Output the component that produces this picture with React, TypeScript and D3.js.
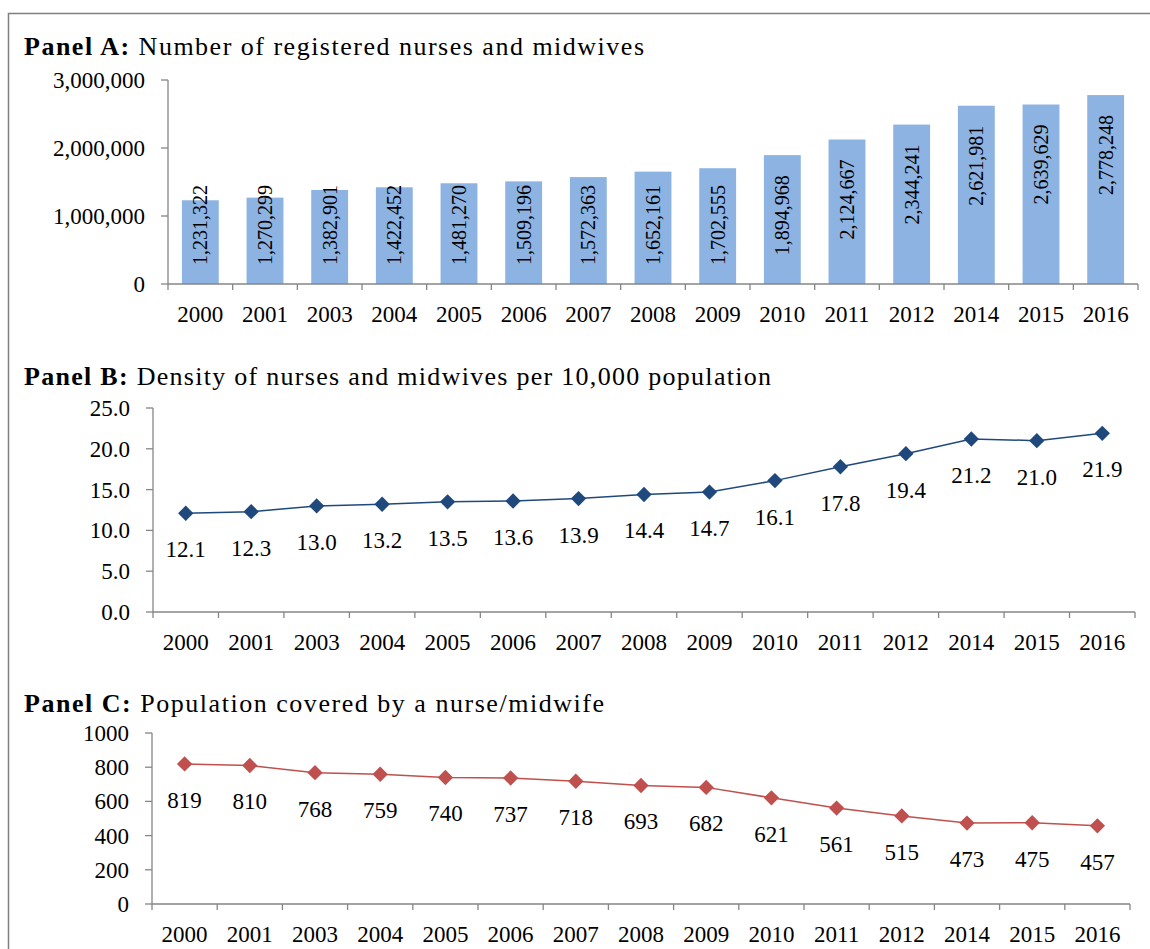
import React from 'react'
import * as d3 from 'd3'

const years = ['2000', '2001', '2003', '2004', '2005', '2006', '2007', '2008', '2009', '2010', '2011', '2012', '2014', '2015', '2016']
const nurses = [1231322, 1270299, 1382901, 1422452, 1481270, 1509196, 1572363, 1652161, 1702555, 1894968, 2124667, 2344241, 2621981, 2639629, 2778248]
const density = [12.1, 12.3, 13.0, 13.2, 13.5, 13.6, 13.9, 14.4, 14.7, 16.1, 17.8, 19.4, 21.2, 21.0, 21.9]
const coverage = [819, 810, 768, 759, 740, 737, 718, 693, 682, 621, 561, 515, 473, 475, 457]

const ticksA = [0, 1000000, 2000000, 3000000]
const ticksB = [0, 5, 10, 15, 20, 25]
const ticksC = [0, 200, 400, 600, 800, 1000]

const FONT = '"Liberation Serif", "Times New Roman", serif'
const AXIS = '#868686'
const TICK_SIZE = 23

function CategoryAxis({ x, y0 }: { x: d3.ScaleBand<string>, y0: number }) {
  const [r0, r1] = x.range()
  const step = x.step()
  return (
    <g>
      <line x1={r0} x2={r1} y1={y0} y2={y0} stroke={AXIS} strokeWidth={1.3} />
      {d3.range(years.length + 1).map(i => (
        <line key={i} x1={r0 + i * step} x2={r0 + i * step} y1={y0} y2={y0 + 6} stroke={AXIS} strokeWidth={1.3} />
      ))}
      {years.map(c => (
        <text key={c} x={x(c)! + x.bandwidth() / 2} y={y0 + 38} textAnchor="middle" fontSize={TICK_SIZE}>{c}</text>
      ))}
    </g>
  )
}

function ValueAxis({ y, x0, ticks, fmt }: { y: d3.ScaleLinear<number, number>, x0: number, ticks: number[], fmt: (v: number) => string }) {
  const [b, t] = y.range()
  return (
    <g>
      <line x1={x0} x2={x0} y1={t} y2={b} stroke={AXIS} strokeWidth={1.3} />
      {ticks.map(v => (
        <g key={v}>
          <line x1={x0 - 7} x2={x0} y1={y(v)} y2={y(v)} stroke={AXIS} strokeWidth={1.3} />
          <text x={x0 - 23} y={y(v)} dy="0.35em" textAnchor="end" fontSize={TICK_SIZE}>{fmt(v)}</text>
        </g>
      ))}
    </g>
  )
}

// Palatino in the original is wider than Liberation Serif, so stretch to the same extent
function Title({ y, bold, rest, len }: { y: number, bold: string, rest: string, len: number }) {
  return (
    <text x={24} y={y} fontSize={26} textLength={len} lengthAdjust="spacing">
      <tspan fontWeight="bold">{bold}</tspan>
      <tspan> {rest}</tspan>
    </text>
  )
}

function BarPanel() {
  const x = d3.scaleBand<string>().domain(years).range([168, 1138]).paddingInner(0.43).paddingOuter(0.215)
  const y = d3.scaleLinear().domain([0, 3000000]).range([284, 80])
  const fmt = d3.format(',')
  return (
    <g>
      <Title y={55} bold="Panel A:" rest="Number of registered nurses and midwives" len={620} />
      {nurses.map((v, i) => (
        <rect key={i} x={x(years[i])} y={y(v)} width={x.bandwidth()} height={y(0) - y(v)} fill="#8DB3E2" />
      ))}
      {nurses.map((v, i) => {
        const cx = x(years[i])! + x.bandwidth() / 2
        const yb = Math.min(y(v) + 100, y(0) - 19)
        return (
          <text key={i} transform={`translate(${cx},${yb}) rotate(-90)`} dy="0.35em" fontSize={20}>{fmt(v)}</text>
        )
      })}
      <ValueAxis y={y} x0={168} ticks={ticksA} fmt={fmt} />
      <CategoryAxis x={x} y0={284} />
    </g>
  )
}

function LinePanel({ title, bold, values, ticks, domain, top, bottom, left, right, color, fmt, tfmt, titleY, titleLen }: {
  title: string, bold: string, values: number[], ticks: number[], domain: [number, number],
  top: number, bottom: number, left: number, right: number, color: string,
  fmt: (v: number) => string, tfmt: (v: number) => string, titleY: number, titleLen: number
}) {
  const x = d3.scaleBand<string>().domain(years).range([left, right])
  const y = d3.scaleLinear().domain(domain).range([bottom, top])
  const cx = (i: number) => x(years[i])! + x.bandwidth() / 2
  const line = d3.line<number>().x((_, i) => cx(i)).y(v => y(v))
  const diamond = d3.symbol().type(d3.symbolDiamond2).size(150)
  return (
    <g>
      <Title y={titleY} bold={bold} rest={title} len={titleLen} />
      <ValueAxis y={y} x0={left} ticks={ticks} fmt={tfmt} />
      <CategoryAxis x={x} y0={bottom} />
      <path d={line(values)!} fill="none" stroke={color} strokeWidth={1.5} />
      {values.map((v, i) => (
        <path key={i} d={diamond()!} transform={`translate(${cx(i)},${y(v)})`} fill={color} />
      ))}
      {values.map((v, i) => (
        <text key={i} x={cx(i)} y={y(v) + 44} textAnchor="middle" fontSize={23}>{fmt(v)}</text>
      ))}
    </g>
  )
}

export default function App() {
  const f1 = d3.format('.1f')
  const f0 = d3.format('d')
  return (
    <svg width={1150} height={949} style={{ position: 'absolute', left: 0, top: 0, fontFamily: FONT, background: '#fff' }}>
      <rect x={0} y={0} width={1150} height={949} fill="#fff" />
      <rect x={8.5} y={13.5} width={1160} height={960} fill="none" stroke="#808080" strokeWidth={1.5} />
      <BarPanel />
      <LinePanel titleY={385} titleLen={747} bold="Panel B:" title="Density of nurses and midwives per 10,000 population"
        values={density} ticks={ticksB} domain={[0, 25]} top={408} bottom={612} left={153} right={1135}
        color="#1F497D" fmt={f1} tfmt={f1} />
      <LinePanel titleY={712} titleLen={580} bold="Panel C:" title="Population covered by a nurse/midwife"
        values={coverage} ticks={ticksC} domain={[0, 1000]} top={733} bottom={904} left={152} right={1130}
        color="#C0504D" fmt={f0} tfmt={f0} />
    </svg>
  )
}
